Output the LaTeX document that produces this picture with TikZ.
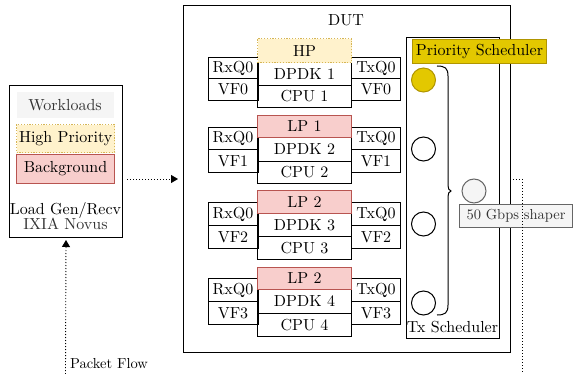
\documentclass[tikz,border=0pt]{standalone}
\usepackage{fontspec}
\setmainfont{lmroman10-regular.otf}
\usetikzlibrary{arrows.meta}
\definecolor{hpfill}{HTML}{FFF2CC}
\definecolor{hpline}{HTML}{D6B656}
\definecolor{lpfill}{HTML}{F8CECC}
\definecolor{lpline}{HTML}{B85450}
\definecolor{psfill}{HTML}{E3C800}
\definecolor{psline}{HTML}{B09500}
\definecolor{gfill}{HTML}{F5F5F5}
\definecolor{gline}{HTML}{666666}
\definecolor{gtext}{HTML}{333333}
\newcommand\dfont{\fontsize{16}{16}\selectfont}
\newcommand\sfont{\fontsize{14.5}{16}\selectfont}
\tikzset{
  bx/.style={draw, line width=1pt, inner sep=0pt, anchor=north west, font=\dfont},
  hpbox/.style={bx, fill=hpfill, draw=hpline, dash pattern=on 1.2pt off 1.6pt, line width=1.3pt},
  lpbox/.style={bx, fill=lpfill, draw=lpline},
  plainbox/.style={bx},
  lbl/.style={inner sep=0pt, font=\dfont},
  circ/.style={circle, draw, line width=1pt, minimum size=24pt, inner sep=0pt},
  flow/.style={line width=0.9pt, dash pattern=on 1pt off 2pt, -{Triangle[length=7pt,width=8pt]}},
  dline/.style={line width=0.9pt, dash pattern=on 1pt off 2pt},
}
\begin{document}
\begin{tikzpicture}[x=1pt,y=-1pt]
\useasboundingbox (0,0) rectangle (573,374);
% ---------- load generator ----------
\node[bx, minimum width=113pt, minimum height=152pt] (lg) at (9,85) {};
\node[bx, draw=none, fill=gfill, text=gtext, minimum width=97pt, minimum height=26pt] (wl) at (16,92) {Workloads};
\node[hpbox, minimum width=98pt, minimum height=28pt] (hpw) at (16,124) {High Priority};
\node[lpbox, minimum width=98pt, minimum height=29pt] (bgw) at (16,154) {Background};
\node[lbl, align=center] (lgl) at (65.5,216) {Load Gen/Recv\\[-0.5pt]\textcolor{gtext}{IXIA Novus}};
% ---------- DUT ----------
\node[bx, minimum width=327pt, minimum height=347pt] (dut) at (183,5) {};
\node[lbl] (dutl) at (346,20) {DUT};
\foreach \i/\v/\lab/\sty/\t/\a/\b/\c/\ra/\rb/\rc in {
  1/0/HP/hpbox/38/62/85/107/57/78/100,
  2/1/LP 1/lpbox/115/137/161/183/127/149/172,
  3/2/LP 2/lpbox/190/213/236/259/202/225/248,
  4/3/LP 2/lpbox/267/289/313/336/278/301/324}{
  \node[plainbox, minimum width=50pt, minimum height={\rb-\ra}] (rxq\i) at (207.5,\ra) {RxQ0};
  \node[plainbox, minimum width=50pt, minimum height={\rc-\rb}] (vfl\i) at (207.5,\rb) {VF\v};
  \node[plainbox, minimum width=49pt, minimum height={\rb-\ra}] (txq\i) at (351,\ra) {TxQ0};
  \node[plainbox, minimum width=49pt, minimum height={\rc-\rb}] (vfr\i) at (351,\rb) {VF\v};
  \node[plainbox, minimum width=94pt, minimum height={\b-\a}] (dpdk\i) at (257,\a) {DPDK \i};
  \node[plainbox, minimum width=94pt, minimum height={\c-\b}] (cpu\i) at (257,\b) {CPU \i};
  \node[\sty, minimum width=94pt, minimum height={\a-\t}] (top\i) at (257,\t) {\lab};
}
% ---------- Tx scheduler ----------
\node[bx, minimum width=93pt, minimum height=301pt] (txs) at (406,37) {};
\node[lbl] (txsl) at (452.5,327) {Tx Scheduler};
\node[bx, fill=psfill, draw=psline, minimum width=134pt, minimum height=24pt] (ps) at (412,39) {Priority Scheduler};
\node[circ, fill=psfill, draw=psline] (c1) at (423.5,80) {};
\node[circ] (c2) at (423.5,149) {};
\node[circ] (c3) at (423.5,224) {};
\node[circ] (c4) at (423.5,303) {};
\draw[line width=1pt] (437,66) .. controls (445,66) and (448,68) .. (448,76)
  -- (448,182) .. controls (448,189) and (449,191) .. (451,191)
  .. controls (449,191) and (448,193) .. (448,200)
  -- (448,305) .. controls (448,313) and (445,315) .. (437,315);
\node[circ, fill=gfill, draw=gline] (shp) at (474,191) {};
\node[bx, fill=gfill, draw=gline, text=gtext, font=\sfont, minimum width=113pt, minimum height=23pt] (shpl) at (459,204) {50 Gbps shaper};
% ---------- connectors ----------
\coordinate (pfin) at (65.5,374);
\coordinate (pfout) at (522,374);
\draw[flow, shorten <=4pt, shorten >=5pt] (lg.east |- dut.west) -- (dut.west);
\draw[flow, shorten >=2pt] (pfin) -- (lg.south);
\draw[dline, shorten <=2pt] (dut.east) -| (pfout);
\node[inner sep=0pt, anchor=west, font=\sfont] (pfl) at (70,364) {Packet Flow};
\end{tikzpicture}
\end{document}
